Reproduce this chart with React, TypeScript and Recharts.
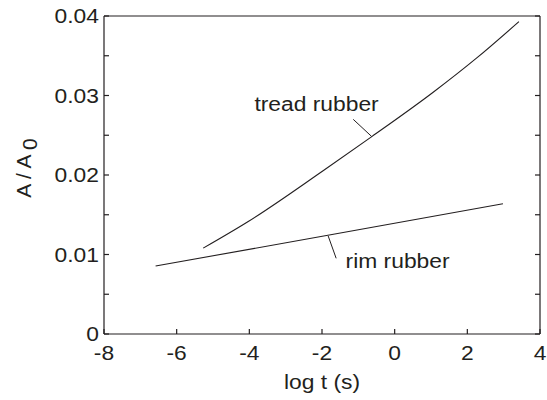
import React from 'react';
import { LineChart, Line, XAxis, YAxis, ReferenceLine, ReferenceDot } from 'recharts';

const xTicks = [-8, -6, -4, -2, 0, 2, 4];
const yTicks = [0, 0.005, 0.01, 0.015, 0.02, 0.025, 0.03, 0.035, 0.04];
const yLabels: Record<string, string> = { '0': '0', '0.01': '0.01', '0.02': '0.02', '0.03': '0.03', '0.04': '0.04' };

const treadRubber = [
  { x: -5.27, y: 0.0108 },
  { x: -4.03, y: 0.01415 },
  { x: -1.96, y: 0.02057 },
  { x: -0.63, y: 0.02483 },
  { x: 1.06, y: 0.03041 },
  { x: 2.26, y: 0.03473 },
  { x: 3.42, y: 0.0393 },
];

const rimRubber = [
  { x: -6.58, y: 0.00855 },
  { x: -1.8, y: 0.01245 },
  { x: 2.98, y: 0.01639 },
];

const annotationTexts = [
  { text: 'tread rubber', x: -2.15, y: 0.028 },
  { text: 'rim rubber', x: 0.08, y: 0.0083 },
];

const pointers = [
  { x1: -1.14, y1: 0.027, x2: -0.63, y2: 0.02483 },
  { x1: -1.83, y1: 0.01233, x2: -1.61, y2: 0.00952 },
];

const INK = '#231f20';
const FONT = '"Liberation Sans", Arial, Helvetica, sans-serif';
const FS = 19.5;
const SX = 1.17;

const XTick = (props: any) => {
  const { x, y, payload } = props;
  return (
    <g transform={`translate(${x},${y})`}>
      <text transform={`scale(${SX},1)`} x={0} y={31} textAnchor="middle" fill={INK} fontFamily={FONT} fontSize={FS}>
        {String(payload.value)}
      </text>
    </g>
  );
};

const YTick = (props: any) => {
  const { x, y, payload } = props;
  const label = yLabels[String(payload.value)];
  if (!label) return null;
  return (
    <g transform={`translate(${x - 10},${y})`}>
      <text transform={`scale(${SX},1)`} x={0} y={7} textAnchor="end" fill={INK} fontFamily={FONT} fontSize={FS}>
        {label}
      </text>
    </g>
  );
};

const YLabel = () => (
  <text transform="translate(31,168) rotate(-90)" textAnchor="middle" fill={INK} fontFamily={FONT} fontSize={21}>
    A / A <tspan dy={6}>0</tspan>
  </text>
);

const XLabel = () => (
  <g transform="translate(322,389)">
    <text transform={`scale(${SX},1)`} x={0} y={0} textAnchor="middle" fill={INK} fontFamily={FONT} fontSize={FS}>
      log t (s)
    </text>
  </g>
);

const noLabel = () => '';

export default function App() {
  return (
    <div style={{ position: 'absolute', left: 0, top: 0 }}>
      <LineChart width={547} height={400} margin={{ top: 0, right: 0, bottom: 0, left: 0 }}>
        <XAxis
          xAxisId="bottom"
          dataKey="x"
          type="number"
          domain={[-8, 4]}
          ticks={xTicks}
          orientation="bottom"
          height={66}
          tickSize={-5}
          tickMargin={0}
          tick={<XTick />}
          stroke={INK}
          strokeWidth={1.2}
          label={<XLabel />}
          allowDataOverflow
        />
        <XAxis
          xAxisId="top"
          type="number"
          domain={[-8, 4]}
          ticks={xTicks}
          orientation="top"
          height={16}
          tickSize={-5}
          tickFormatter={noLabel}
          stroke={INK}
          strokeWidth={1.2}
          allowDataOverflow
        />
        <YAxis
          yAxisId="left"
          type="number"
          domain={[0, 0.04]}
          ticks={yTicks}
          orientation="left"
          width={104}
          tickSize={-5}
          tickMargin={0}
          tick={<YTick />}
          stroke={INK}
          strokeWidth={1.2}
          label={<YLabel />}
          allowDataOverflow
        />
        <YAxis
          yAxisId="right"
          type="number"
          domain={[0, 0.04]}
          ticks={yTicks}
          orientation="right"
          width={7}
          tickSize={-5}
          tickFormatter={noLabel}
          stroke={INK}
          strokeWidth={1.2}
          allowDataOverflow
        />
        <Line
          xAxisId="bottom"
          yAxisId="left"
          data={treadRubber}
          dataKey="y"
          type="monotone"
          stroke={INK}
          strokeWidth={1.1}
          dot={false}
          isAnimationActive={false}
        />
        <Line
          xAxisId="bottom"
          yAxisId="left"
          data={rimRubber}
          dataKey="y"
          type="linear"
          stroke={INK}
          strokeWidth={1.1}
          dot={false}
          isAnimationActive={false}
        />
        {pointers.map((p, i) => (
          <ReferenceLine
            key={`p${i}`}
            xAxisId="bottom"
            yAxisId="left"
            segment={[{ x: p.x1, y: p.y1 }, { x: p.x2, y: p.y2 }]}
            stroke={INK}
            strokeWidth={1}
          />
        ))}
        {annotationTexts.map((a, i) => (
          <ReferenceDot
            key={`a${i}`}
            xAxisId="bottom"
            yAxisId="left"
            x={a.x}
            y={a.y}
            r={0}
            shape={(s: any) => (
              <g transform={`translate(${s.cx},${s.cy})`}>
                <text transform={`scale(${SX},1)`} x={0} y={0} textAnchor="middle" fill={INK} fontFamily={FONT} fontSize={FS}>
                  {a.text}
                </text>
              </g>
            )}
          />
        ))}
      </LineChart>
    </div>
  );
}
